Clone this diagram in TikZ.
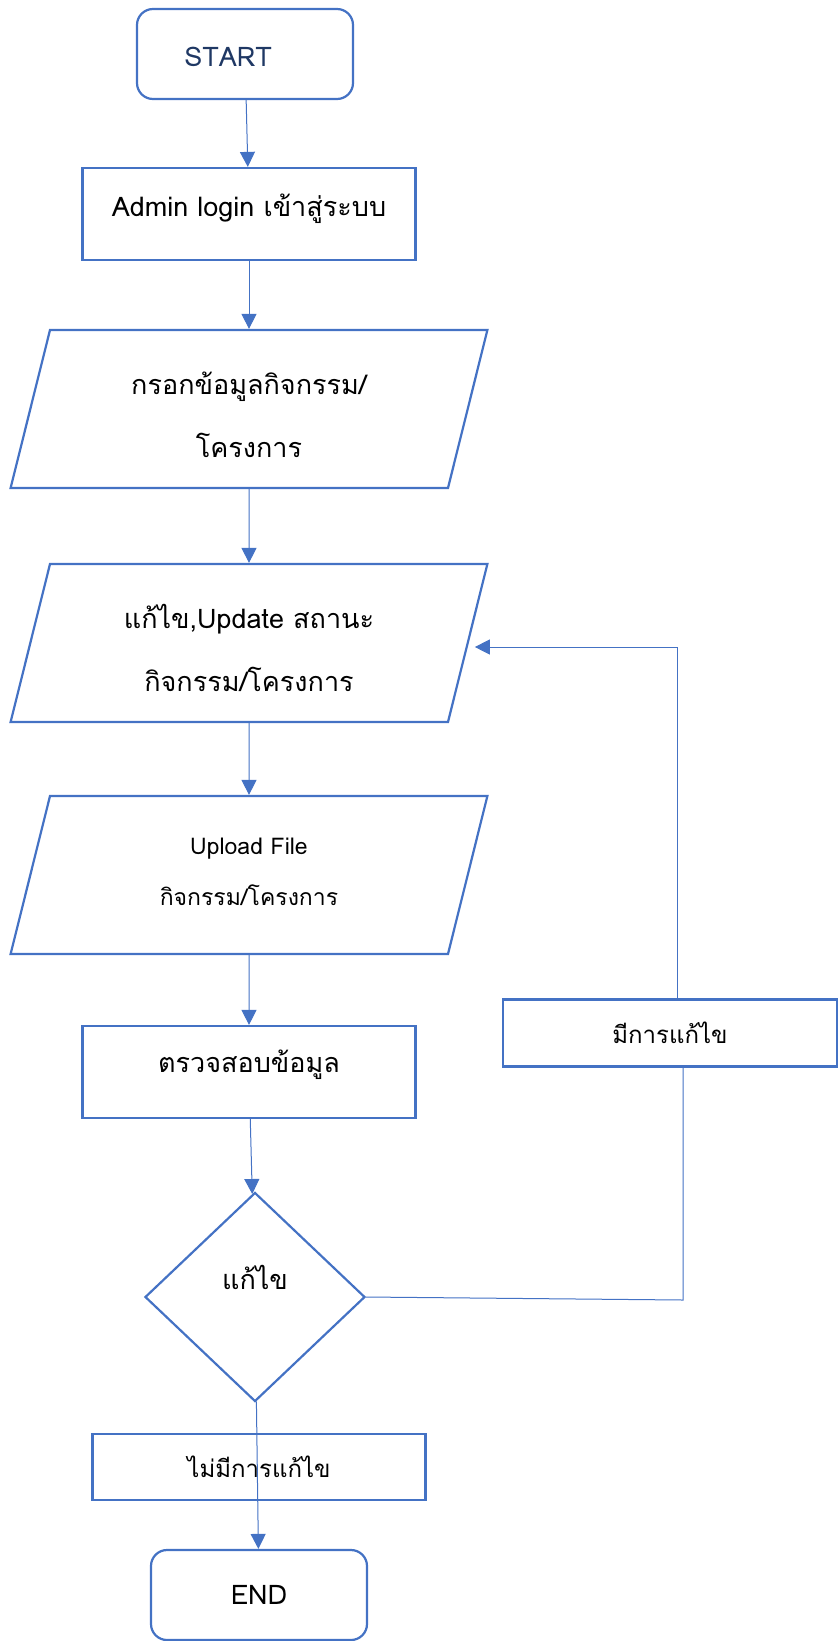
\documentclass[tikz,border=0pt]{standalone}
\usepackage{fontspec}
\usepackage{tikz}
\usetikzlibrary{shapes.geometric,arrows.meta}
\newfontfamily\thaifont[Script=Thai]{Loma}
\definecolor{flowblue}{HTML}{4472C4}
\definecolor{navy}{HTML}{1F3864}
\tikzstyle{terminal}=[draw=flowblue,line width=2.2pt,rounded corners=16pt,minimum width=216pt,minimum height=90pt,inner sep=0pt]
\tikzstyle{process}=[draw=flowblue,line width=2.2pt,minimum width=333pt,minimum height=92pt,inner sep=0pt]
\tikzstyle{io}=[draw=flowblue,line width=2.2pt,trapezium,trapezium left angle=76,trapezium right angle=104,text width=398pt,text height=64pt,text depth=94pt,inner sep=0pt,align=center]
\tikzstyle{decision}=[draw=flowblue,line width=2.2pt,diamond,minimum width=220pt,minimum height=209pt,inner sep=0pt]
\tikzstyle{line}=[draw=flowblue,line width=1pt]
\tikzstyle{flow}=[line,-{Triangle[width=15pt,length=15pt]}]
\newcommand{\up}[2]{\raisebox{#1}[0pt][0pt]{#2}}

\begin{document}
\begin{tikzpicture}[x=1pt,y=-1pt,font=\thaifont\fontsize{27}{63}\selectfont]
\useasboundingbox (0,0) rectangle (838,1641);
% main column
\node[terminal,text=navy] (start) at (245,54) {\up{-12pt}{START}\hspace*{34pt}};
\node[process] (login) at (249,214) {\up{-2pt}{Admin login เข้าสู่ระบบ}};
\node[io] (input) at (249,409) {กรอกข้อมูลกิจกรรม/\\โครงการ};
\node[io] (edit) at (249,643) {แก้ไข,Update สถานะ\\กิจกรรม/โครงการ};
\node[io,text height=58pt,text depth=100pt,font=\thaifont\fontsize{23}{51}\selectfont] (upload) at (249,875) {Upload File\\กิจกรรม/โครงการ};
\node[process] (check) at (249,1072) {\up{0pt}{ตรวจสอบข้อมูล}};
\node[decision] (fix) at (255,1297) {\up{8pt}{แก้ไข}};
\node[process,minimum height=66pt,font=\thaifont\fontsize{24}{30}\selectfont] (no) at (259,1467) {ไม่มีการแก้ไข};
\node[terminal] (end) at (259,1595) {END};
% loop back
\node[process,minimum width=334pt,minimum height=67pt,font=\thaifont\fontsize{24}{30}\selectfont] (yes) at (670,1033) {มีการแก้ไข};
\coordinate (bendA) at (683,1300);
\coordinate (bendB) at (677,647);

\foreach \from/\to in {start/login,login/input,input/edit,edit/upload,
                       upload/check,check/fix,fix/end}
  \draw[flow] (\from) -- (\to);
\draw[line] (fix.east) -- (bendA) -- (bendA |- yes.south);
\draw[flow,shorten >=6pt] (bendB |- yes.north) -- (bendB) -- (bendB -| edit.east);
\end{tikzpicture}
\end{document}
